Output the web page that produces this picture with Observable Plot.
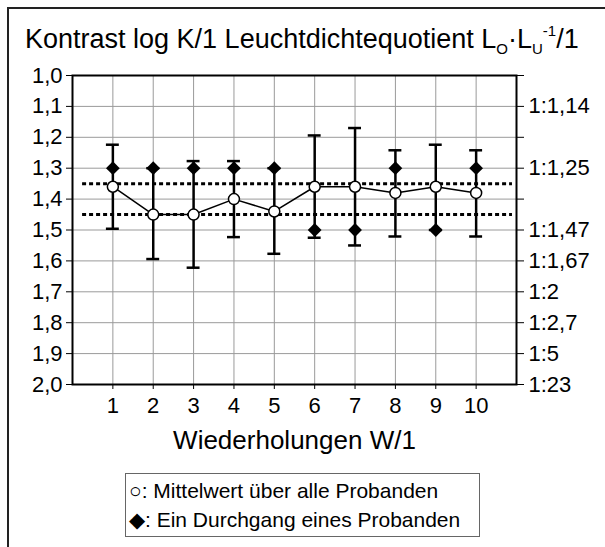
<!DOCTYPE html>
<html>
<head>
<meta charset="utf-8">
<script src="https://cdn.jsdelivr.net/npm/d3@7"></script>
<script src="https://cdn.jsdelivr.net/npm/@observablehq/plot@0.6"></script>
<style>
  html, body { margin: 0; padding: 0; background: #fff; }
  #wrap { position: relative; width: 605px; height: 547px; overflow: hidden; font-family: "Liberation Sans", Arial, sans-serif; color: #000; }
  #border { position: absolute; left: 7px; top: 7px; width: 620px; height: 560px; border-left: 2px solid #222; border-top: 2px solid #222; }
  #title { position: absolute; left: 25px; top: 26px; font-size: 27px; line-height: 1; white-space: nowrap; }
  #title sub, #title sup { font-size: 15px; line-height: 0; position: relative; vertical-align: baseline; }
  #title sub { top: 6px; }
  #title sup { top: -12px; }
  #chart { position: absolute; left: 0; top: 0; }
  #legend { position: absolute; left: 125px; top: 473px; width: 355px; height: 64px; border: 1px solid #666; box-sizing: border-box; font-size: 21px; line-height: 29px; padding-left: 3px; padding-top: 2px; white-space: nowrap; }
</style>
</head>
<body>
<div id="wrap">
  <div id="border"></div>
  <div id="chart"></div>
  <div id="title">Kontrast log K/1 Leuchtdichtequotient L<sub>O</sub>·L<sub>U</sub><sup>-1</sup>/1</div>
  <div id="legend">
    <div>○: Mittelwert über alle Probanden</div>
    <div>◆: Ein Durchgang eines Probanden</div>
  </div>
</div>
<script>
// Data
const repetitions = [1, 2, 3, 4, 5, 6, 7, 8, 9, 10];
const meanValues  = [1.36, 1.45, 1.45, 1.40, 1.44, 1.36, 1.36, 1.38, 1.36, 1.38];
const errUpper    = [1.224, 1.30, 1.277, 1.277, 1.30, 1.194, 1.17, 1.242, 1.224, 1.242];
const errLower    = [1.496, 1.594, 1.622, 1.523, 1.577, 1.525, 1.55, 1.521, 1.50, 1.521];
const singleRun   = [1.3, 1.3, 1.3, 1.3, 1.3, 1.5, 1.5, 1.3, 1.5, 1.3];
const referenceLines = [1.35, 1.45];
const leftTicks = [1.0, 1.1, 1.2, 1.3, 1.4, 1.5, 1.6, 1.7, 1.8, 1.9, 2.0];
const rightTickValues = [1.1, 1.3, 1.5, 1.6, 1.7, 1.8, 1.9, 2.0];
const rightTickLabels = ["1:1,14", "1:1,25", "1:1,47", "1:1,67", "1:2", "1:2,7", "1:5", "1:23"];
const xLabel = "Wiederholungen W/1";

const rows = repetitions.map((x, i) => ({
  x, mean: meanValues[i], hi: errUpper[i], lo: errLower[i], single: singleRun[i]
}));
const rightMap = new Map(rightTickValues.map((v, i) => [Math.round(v * 10), rightTickLabels[i]]));
const capHalf = 0.16;

const chart = Plot.plot({
  width: 605,
  height: 547,
  marginTop: 75,
  marginBottom: 163,
  marginLeft: 72,
  marginRight: 89,
  style: { fontFamily: "'Liberation Sans', Arial, sans-serif", background: "transparent", color: "#000" },
  x: { domain: [0, 11] },
  y: { domain: [1, 2], reverse: true },
  marks: [
    Plot.ruleY(leftTicks, { stroke: "#9a9a9a", strokeWidth: 1 }),
    Plot.ruleX(repetitions, { stroke: "#9a9a9a", strokeWidth: 1 }),
    Plot.ruleY(referenceLines, { x1: 0.25, x2: 10.9, stroke: "#000", strokeWidth: 3, strokeDasharray: "4,3" }),
    Plot.ruleX(rows, { x: "x", y1: "hi", y2: "lo", stroke: "#000", strokeWidth: 2.5 }),
    Plot.ruleY(rows, { y: "hi", x1: d => d.x - capHalf, x2: d => d.x + capHalf, stroke: "#000", strokeWidth: 2.5 }),
    Plot.ruleY(rows, { y: "lo", x1: d => d.x - capHalf, x2: d => d.x + capHalf, stroke: "#000", strokeWidth: 2.5 }),
    Plot.line(rows, { x: "x", y: "mean", stroke: "#000", strokeWidth: 1.5 }),
    Plot.dot(rows, { x: "x", y: "mean", r: 5.5, fill: "#fff", stroke: "#000", strokeWidth: 1.5 }),
    Plot.dot(rows, { x: "x", y: "single", symbol: "diamond2", r: 6.2, fill: "#000", stroke: "none" }),
    Plot.frame({ stroke: "#000", strokeWidth: 2 }),
    Plot.axisY({ anchor: "left", ticks: leftTicks, tickFormat: d => d.toFixed(1).replace(".", ","), tickSize: 6, tickPadding: 4, fontSize: 22, label: null }),
    Plot.axisY({ anchor: "right", ticks: leftTicks, tickFormat: d => rightMap.get(Math.round(d * 10)) ?? "", tickSize: 7, tickPadding: 5, fontSize: 22, label: null }),
    Plot.axisX({ ticks: repetitions, tickFormat: d => String(d), tickSize: 5, tickPadding: 8, fontSize: 22, label: null }),
    Plot.text([xLabel], { frameAnchor: "bottom", dy: 56, fontSize: 26, text: d => d, lineAnchor: "middle" })
  ]
});
document.getElementById("chart").appendChild(chart);
</script>
</body>
</html>
